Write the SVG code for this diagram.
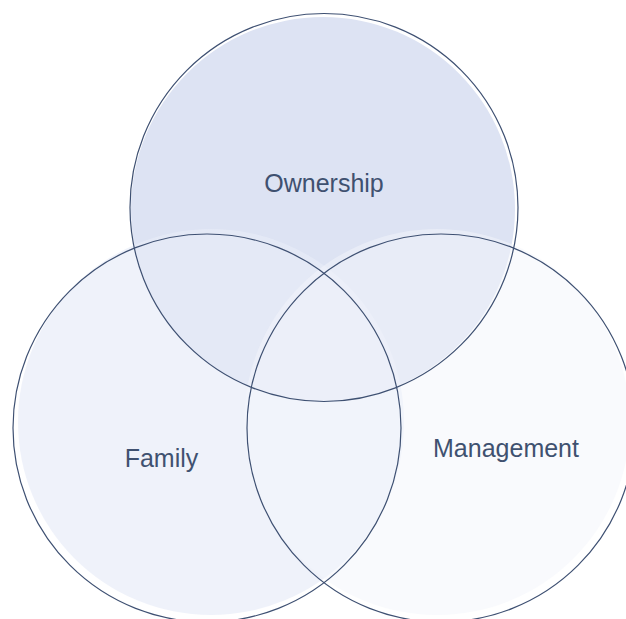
<svg xmlns="http://www.w3.org/2000/svg" width="626" height="619" viewBox="0 0 626 619">
<style>
.outline{fill:none;stroke:#3e5072;stroke-width:1.2}
.lbl{font-family:"Liberation Sans",Arial,sans-serif;font-size:25px;fill:#3f5170;text-anchor:middle}
</style>
<rect width="626" height="619" fill="#ffffff"/>
<g id="node-ownership">
<circle cx="323" cy="209" r="192" fill="#dde3f3"/>
</g>
<g id="node-family">
<circle cx="211" cy="422" r="193" fill="#e8ecf8" fill-opacity="0.68"/>
</g>
<g id="node-management">
<circle cx="437" cy="422" r="193" fill="#f3f5fb" fill-opacity="0.5"/>
</g>
<g id="outlines">
<circle class="outline" cx="324" cy="207.5" r="194"/>
<circle class="outline" cx="207" cy="428" r="194"/>
<circle class="outline" cx="441" cy="428" r="194"/>
</g>
<g id="labels">
<text class="lbl" x="324" y="192">Ownership</text>
<text class="lbl" x="161.5" y="467">Family</text>
<text class="lbl" x="506" y="457">Management</text>
</g>
<g id="connectors"/>
</svg>
